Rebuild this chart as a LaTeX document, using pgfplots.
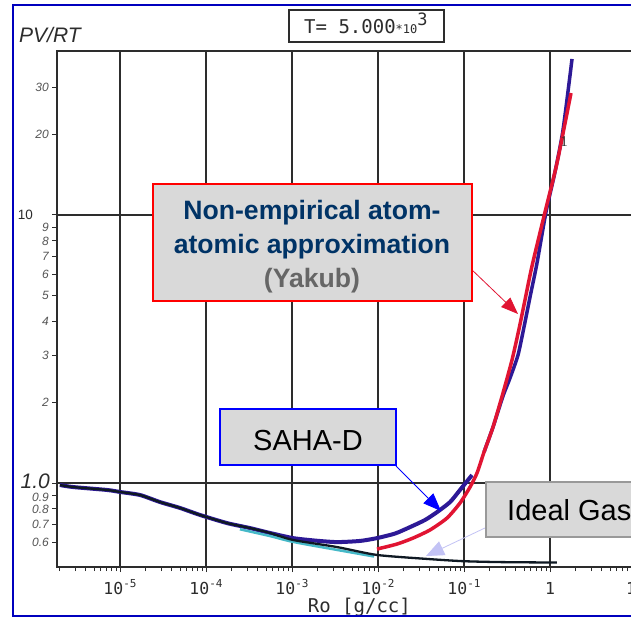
\documentclass[border=0pt]{standalone}
\usepackage{fontspec}
\setmainfont{Liberation Sans}
\newfontfamily\mono{DejaVu Sans Mono}
\newfontfamily\serifone{Liberation Serif}
\usepackage{pgfplots}
\pgfplotsset{compat=1.18}
\usetikzlibrary{arrows.meta}

\definecolor{saha}{RGB}{45,25,150}
\definecolor{yakub}{RGB}{225,20,50}
\definecolor{ideal}{RGB}{15,25,35}
\definecolor{tealband}{RGB}{70,185,200}
\definecolor{boxgray}{RGB}{217,217,217}
\definecolor{navytext}{RGB}{0,51,102}
\definecolor{yakubgray}{RGB}{102,102,102}
\definecolor{gridc}{RGB}{45,45,45}
\definecolor{framebl}{RGB}{0,0,190}
\definecolor{lav}{RGB}{195,195,245}
\definecolor{labgray}{RGB}{85,85,85}

% tick label helpers
\newcommand\xt[1]{{\mono\fontsize{16.5}{16.5}\selectfont 10\raisebox{7pt}{\fontsize{11}{11}\selectfont #1}}}
\newcommand\ys[1]{{\fontsize{12}{12}\selectfont\itshape\color{labgray}#1}}

\begin{document}
\begin{tikzpicture}[x=1pt,y=1pt]
\useasboundingbox (0,0) rectangle (631,-618);
\clip (0,0) rectangle (631,-618);
\fill[white] (0,0) rectangle (631,-618);

\begin{axis}[
  at={(57pt,-567pt)}, anchor=south west,
  scale only axis, width=604.8pt, height=516pt,
  xmode=log, ymode=log,
  xmin=1.85e-6, xmax=19.95,
  ymin=0.486, ymax=40.9,
  axis line style={gridc, line width=1.4pt},
  tick style={gridc, line width=1pt},
  major tick length=5pt, minor tick length=4pt,
  tick align=outside,
  xtick pos=bottom, ytick pos=left,
  xtick={1e-5,1e-4,1e-3,1e-2,1e-1,1,10},
  xticklabels={\xt{-5},\xt{-4},\xt{-3},\xt{-2},\xt{-1},{\mono\fontsize{16.5}{16.5}\selectfont 1},{\mono\fontsize{16.5}{16.5}\selectfont 10}},
  minor xtick={2e-6,3e-6,4e-6,5e-6,6e-6,7e-6,8e-6,9e-6,
               2e-5,3e-5,4e-5,5e-5,6e-5,7e-5,8e-5,9e-5,
               2e-4,3e-4,4e-4,5e-4,6e-4,7e-4,8e-4,9e-4,
               2e-3,3e-3,4e-3,5e-3,6e-3,7e-3,8e-3,9e-3,
               2e-2,3e-2,4e-2,5e-2,6e-2,7e-2,8e-2,9e-2,
               0.2,0.3,0.4,0.5,0.6,0.7,0.8,0.9,
               2,3,4,5,6,7,8,9},
  xticklabel style={anchor=base, inner sep=0pt, yshift=-22pt, text=gridc},
  xmajorgrids,
  grid style={gridc, line width=1.2pt},
  ytick={0.6,0.7,0.8,0.9,1,2,3,4,5,6,7,8,9,10,20,30},
  yticklabels={\ys{0.6},\ys{0.7},\ys{0.8},{\raisebox{-6.5pt}[0pt][0pt]{\ys{0.9}}},
    {\raisebox{-5pt}[0pt][0pt]{\fontsize{21}{21}\selectfont\itshape\color{gridc}1.0}\kern-1pt},
    \ys{2},\ys{3},\ys{4},\ys{5},\ys{6},\ys{7},\ys{8},\ys{9},
    {\raisebox{1pt}{\fontsize{13.5}{13.5}\selectfont\color{gridc}10}\kern16pt},
    \ys{20},\ys{30}},
  yticklabel style={anchor=east, inner sep=0pt, xshift=-3pt},
  extra y ticks={1,10},
  extra y tick labels={},
  extra y tick style={grid=major, major tick length=0pt},
  xlabel={\mono\fontsize{19}{19}\selectfont Ro [g/cc]},
  xlabel style={at={(axis description cs:0.5,0)}, anchor=base, inner sep=0pt, yshift=-45pt, text=gridc},
  clip=true,
]

% SAHA-D, low-density branch
\addplot[saha, line width=4pt, line join=round, smooth, tension=0.4] coordinates {
 (2.0e-6,0.983) (2.84e-6,0.966) (7.06e-6,0.942) (1e-5,0.926) (1.71e-5,0.902)
 (2.92e-5,0.849) (4.99e-5,0.807) (8.51e-5,0.760) (1.75e-4,0.709) (3.25e-4,0.679)
 (5.55e-4,0.651) (1.03e-3,0.623) (1.85e-3,0.610) (3.33e-3,0.602) (6.17e-3,0.608)
 (9.73e-3,0.623) (1.58e-2,0.648) (2.36e-2,0.685) (3.52e-2,0.728) (4.86e-2,0.779)
 (6.88e-2,0.849) (8.98e-2,0.942) (0.124,1.071)};

% SAHA-D, high-density branch
\addplot[saha, line width=3.5pt, line join=round, smooth, tension=0.4] coordinates {
 (0.171,1.305) (0.2175,1.618) (0.284,2.112) (0.343,2.465) (0.4246,3.004)
 (0.4984,3.82) (0.5855,4.94) (0.7061,6.62) (0.8984,10.26) (1.143,14.47)
 (1.416,20.75) (1.803,38.2)};

% ideal gas: light band under the curve
\addplot[tealband, line width=2.5pt, smooth] coordinates {
 (2.48e-4,0.672) (5.55e-4,0.634) (1.03e-3,0.603) (3.33e-3,0.563) (9.0e-3,0.532)};

% ideal gas
\addplot[ideal, line width=2.3pt, line join=round, smooth, tension=0.4] coordinates {
 (2.0e-6,0.983) (2.84e-6,0.966) (7.06e-6,0.942) (1e-5,0.926) (1.71e-5,0.902)
 (2.92e-5,0.849) (4.99e-5,0.807) (8.51e-5,0.760) (1.75e-4,0.709) (3.25e-4,0.679)
 (5.55e-4,0.651) (1.03e-3,0.613) (3.33e-3,0.577) (9.73e-3,0.539) (4.02e-2,0.520)
 (9.73e-2,0.511) (0.262,0.507) (1.2,0.505)};

% non-empirical atom-atomic approximation (Yakub)
\addplot[yakub, line width=3.5pt, line join=round, smooth, tension=0.4] coordinates {
 (9.73e-3,0.567) (1.663e-2,0.592) (2.55e-2,0.623) (4.02e-2,0.668) (6.34e-2,0.740)
 (8.98e-2,0.842) (0.1175,0.966) (0.1417,1.090) (0.171,1.305) (0.2175,1.618)
 (0.284,2.167) (0.3615,2.877) (0.436,3.755) (0.512,4.82) (0.6175,6.45)
 (0.875,10.26) (1.206,15.63) (1.754,28.5)};
\end{axis}

% outer frame
\draw[framebl, line width=2pt] (13,-5) rectangle (700,-616);

% axis title and temperature box
\node[anchor=base west, inner sep=0pt, text=gridc] at (19,-42)
  {\fontsize{21}{21}\selectfont\itshape PV/RT};
\draw[gridc, line width=1.3pt] (289,-10) rectangle (444,-42);
\node[anchor=base west, inner sep=0pt, text=gridc] at (304,-34)
  {\mono\fontsize{19}{19}\selectfont T= 5.000\fontsize{12}{12}\selectfont *10\raisebox{8pt}{\fontsize{17}{17}\selectfont 3}};
\node[anchor=base, inner sep=0pt, text=gridc] at (564,-146)
  {\serifone\fontsize{15}{15}\selectfont 1};

% callout: Yakub
\draw[yakub, line width=0.8pt, -{Triangle[length=17pt,width=13pt]}] (470,-268) -- (518,-314);
\draw[fill=boxgray, draw=red, line width=2pt] (153,-184) rectangle (472,-301);
\node[anchor=base, inner sep=0pt, text=navytext] at (312,-219)
  {\fontsize{26.6}{26.6}\selectfont\bfseries Non-empirical atom-};
\node[anchor=base, inner sep=0pt, text=navytext] at (312,-253)
  {\fontsize{26.6}{26.6}\selectfont\bfseries atomic approximation};
\node[anchor=base, inner sep=0pt, text=yakubgray] at (312,-287)
  {\fontsize{26.6}{26.6}\selectfont\bfseries (Yakub)};

% callout: SAHA-D
\draw[blue, line width=0.8pt, -{Triangle[length=18pt,width=14pt]}] (396,-466) -- (441,-511);
\draw[fill=boxgray, draw=blue, line width=2pt] (220,-409) rectangle (396,-465);
\node[anchor=base, inner sep=0pt] at (308,-450)
  {\fontsize{29}{29}\selectfont SAHA-D};

% callout: ideal gas
\draw[lav, line width=0.8pt, -{Triangle[length=18pt,width=15pt]}] (487,-527) -- (426,-556);
\draw[fill=boxgray, draw=gray!80, line width=1.3pt] (486,-482) rectangle (700,-537);
\node[anchor=base west, inner sep=0pt] at (507,-520)
  {\fontsize{29}{29}\selectfont Ideal Gas};
\end{tikzpicture}
\end{document}
